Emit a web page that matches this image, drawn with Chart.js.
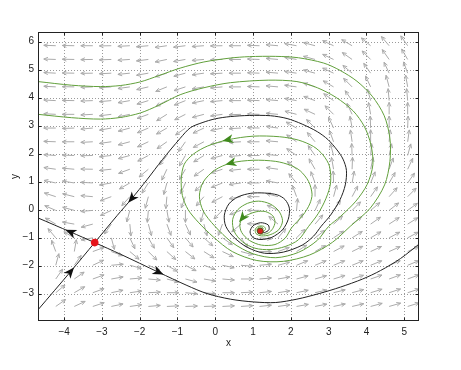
<!DOCTYPE html>
<html>
<head>
<meta charset="utf-8">
<script src="https://cdn.jsdelivr.net/npm/chart.js@4.4.0/dist/chart.umd.min.js"></script>
<style>html,body{margin:0;padding:0;background:#fff}</style>
</head>
<body>
<canvas id="c" width="461" height="370"></canvas>
<script>
// axis ticks
const xTicks = [-4, -3, -2, -1, 0, 1, 2, 3, 4, 5];
const yTicks = [-3, -2, -1, 0, 1, 2, 3, 4, 5, 6];
const xMin = -4.69, xMax = 5.39, yMin = -3.98, yMax = 6.34;

// direction field: grid columns / rows and on-screen arrow angle (deg)
const fieldX = [-4.22, -3.73, -3.24, -2.75, -2.26, -1.77, -1.28, -0.79, -0.30, 0.19, 0.68, 1.17, 1.66, 2.15, 2.64, 3.13, 3.62, 4.11, 4.60, 5.09];
const fieldY = [5.85, 5.36, 4.87, 4.38, 3.89, 3.40, 2.91, 2.42, 1.93, 1.44, 0.95, 0.46, -0.03, -0.52, -1.01, -1.50, -1.99, -2.48, -2.97, -3.46];
const fieldAngle = [
  [178,179,180,181,183,185,188,187,184,181,180,178,175,170,165,155,150,140,130,125],
  [178,179,181,182,184,187,192,190,185,182,180,178,175,170,165,155,145,135,125,120],
  [177,179,181,183,186,190,197,195,188,183,180,178,175,172,165,155,140,125,115,110],
  [177,179,182,184,188,193,202,198,190,185,180,178,175,172,162,150,135,115,105,100],
  [177,179,182,185,190,197,207,202,192,185,180,178,175,170,160,145,125,105,95,95],
  [177,180,183,187,192,200,212,207,195,188,182,178,175,165,155,135,115,100,90,90],
  [180,182,185,190,195,203,210,215,205,192,183,178,172,150,135,115,100,92,90,88],
  [178,180,183,188,195,205,215,235,208,192,183,180,175,145,130,110,98,90,85,82],
  [176,178,181,186,195,208,232,240,212,195,185,180,175,145,125,105,92,85,78,75],
  [172,175,179,186,200,220,245,240,215,198,186,180,172,140,120,100,88,78,70,65],
  [168,171,177,190,210,238,255,245,222,202,188,180,170,130,110,92,80,68,60,55],
  [162,166,175,200,228,255,265,250,230,208,190,180,165,110,90,75,62,55,48,45],
  [157,165,185,205,255,265,280,270,255,225,200,180,155,85,65,55,45,40,38,36],
  [150,170,195,235,275,285,290,295,285,250,220,178,140,60,50,42,38,35,33,32],
  [130,150,190,285,295,300,305,310,318,325,305,355,50,45,38,34,32,30,28,28],
  [110,80,20,340,320,315,318,322,328,335,345,0,20,32,30,28,26,25,24,24],
  [75,55,25,5,345,337,330,333,340,348,355,5,15,22,22,22,22,22,22,22],
  [55,35,20,10,5,355,345,345,350,355,0,5,10,15,16,17,18,19,20,20],
  [40,30,20,12,8,3,0,355,355,0,3,6,9,12,13,14,15,17,18,18],
  [35,25,18,12,8,5,3,2,2,3,4,6,8,10,11,12,13,15,16,17]
];

// equilibria
const saddle = [[-3.19, -1.18]];
const focus = [[1.19, -0.77]];

// separatrices (black), in direction of motion
const stableLower = [[-4.69, -3.58], [-3.83, -2.22], [-3.19, -1.18]];
const unstableLeft = [[-3.19, -1.18], [-3.83, -0.80], [-4.69, -0.30]];
const unstableRight = [[-3.19, -1.18], [-2.5, -1.6], [-1.5, -2.24], [-0.75, -2.71], [-0.22, -3.0], [0.4, -3.2],
  [1.02, -3.3], [1.6, -3.32], [2.16, -3.2], [2.75, -3.0], [3.31, -2.77], [3.9, -2.48], [4.37, -2.18], [4.9, -1.75], [5.45, -1.17]];
const stableUpper = [[1.19,-0.77],[1.3,-0.82],[1.42,-0.72],[1.4,-0.55],[1.2,-0.47],[1.0,-0.58],[0.92,-0.8],[1.0,-1.0],
  [1.21,-1.07],[1.5,-0.99],[1.78,-0.72],[1.93,-0.35],[1.96,0.05],[1.85,0.35],[1.65,0.52],[1.3,0.59],[0.94,0.58],
  [0.6,0.45],[0.36,0.2],[0.24,-0.2],[0.28,-0.6],[0.5,-1.0],[0.85,-1.35],[1.3,-1.56],[1.8,-1.52],[2.3,-1.27],
  [2.6,-0.95],[2.8,-0.6],[3.05,-0.2],[3.3,0.35],[3.44,0.88],[3.47,1.4],[3.38,1.8],[3.22,2.13],[2.98,2.5],
  [2.7,2.78],[2.3,3.05],[1.9,3.25],[1.46,3.35],[0.9,3.36],[0.4,3.32],[0.0,3.24],[-0.35,3.1],[-0.66,2.92],
  [-0.93,2.54],[-1.4,1.78],[-1.81,1.06],[-2.21,0.39],[-2.6,-0.22],[-3.19,-1.18]];

// two green orbits spiralling out of the focus
const greenOuter = [[1.26,-0.8],[1.33,-0.7],[1.28,-0.6],[1.14,-0.6],[1.06,-0.7],[1.08,-0.86],[1.22,-0.94],[1.45,-0.9],
  [1.68,-0.72],[1.78,-0.4],[1.68,-0.05],[1.45,0.2],[1.15,0.3],[0.85,0.22],[0.6,0.0],[0.46,-0.35],[0.5,-0.78],
  [0.72,-1.15],[1.05,-1.38],[1.45,-1.43],[1.85,-1.32],[2.2,-1.08],[2.47,-0.6],[2.72,-0.15],[2.93,0.4],[3.05,0.95],
  [3.02,1.55],[2.85,1.95],[2.6,2.25],[2.2,2.48],[1.7,2.6],[1.0,2.62],[0.33,2.49],[-0.2,2.27],[-0.58,1.98],
  [-0.82,1.62],[-0.9,1.1],[-0.87,0.5],[-0.72,0.0],[-0.45,-0.45],[-0.05,-0.98],[0.45,-1.5],[1.1,-1.82],[1.8,-1.85],
  [2.5,-1.62],[3.1,-1.17],[3.57,-0.6],[4.1,0.05],[4.48,0.88],[4.62,1.72],[4.62,2.55],[4.47,3.35],[4.15,4.05],
  [3.75,4.58],[3.3,4.97],[2.87,5.23],[2.2,5.42],[1.6,5.47],[0.9,5.46],[0.4,5.41],[-0.3,5.27],[-0.93,5.05],
  [-1.5,4.78],[-1.98,4.56],[-2.5,4.43],[-3.04,4.39],[-3.8,4.44],[-4.69,4.57]];
const greenInner = [[1.22,-0.74],[1.27,-0.67],[1.2,-0.62],[1.11,-0.68],[1.12,-0.8],[1.24,-0.88],[1.4,-0.84],[1.52,-0.68],
  [1.58,-0.45],[1.52,-0.22],[1.32,-0.07],[1.08,-0.08],[0.87,-0.18],[0.72,-0.3],[0.65,-0.55],[0.7,-0.82],[0.9,-1.1],
  [1.22,-1.27],[1.58,-1.25],[1.85,-1.02],[2.02,-0.65],[2.32,-0.2],[2.5,0.2],[2.56,0.55],[2.47,1.0],[2.25,1.38],
  [1.99,1.58],[1.6,1.72],[1.0,1.76],[0.41,1.66],[-0.02,1.4],[-0.32,0.98],[-0.42,0.48],[-0.32,-0.05],[-0.02,-0.58],
  [0.45,-1.18],[1.0,-1.58],[1.6,-1.72],[2.2,-1.53],[2.7,-1.1],[3.0,-0.6],[3.31,-0.25],[3.72,0.3],[4.02,0.9],
  [4.17,1.6],[4.12,2.3],[3.95,2.95],[3.65,3.52],[3.2,4.0],[2.7,4.35],[2.16,4.57],[1.4,4.62],[0.4,4.53],[-0.3,4.35],
  [-0.93,4.1],[-1.5,3.72],[-1.98,3.45],[-2.5,3.29],[-3.04,3.23],[-3.8,3.28],[-4.69,3.4]];

// where the flow arrowheads sit: [curve, point index]
const blackHeads = [[stableUpper, 47], [stableLower, 1], [unstableLeft, 1], [unstableRight, 2]];
const greenHeads = [[greenOuter, 32], [greenInner, 29], [greenInner, 13]];

const FONT = "'Liberation Sans', Arial, Helvetica, sans-serif";
const fmt = v => (v < 0 ? '\u2212' + Math.abs(v) : String(v));

function drawHead(ctx, chart, pts, i, color) {
  const { x, y } = chart.scales;
  const px = k => x.getPixelForValue(pts[k][0]);
  const py = k => y.getPixelForValue(pts[k][1]);
  const a = Math.max(i - 1, 0), b = Math.min(i + 1, pts.length - 1);
  const t = Math.atan2(py(b) - py(a), px(b) - px(a));
  ctx.save();
  ctx.translate(px(i), py(i));
  ctx.rotate(t);
  ctx.fillStyle = color;
  ctx.beginPath();
  ctx.moveTo(5.5, 0);
  ctx.lineTo(-5.5, -4.5);
  ctx.lineTo(-2.5, 0);
  ctx.lineTo(-5.5, 4.5);
  ctx.closePath();
  ctx.fill();
  ctx.restore();
}

const phasePlugin = {
  id: 'phase',
  beforeDatasetsDraw(chart) {
    const { ctx, chartArea: a, scales: { x, y } } = chart;
    ctx.save();
    ctx.beginPath();
    ctx.rect(a.left, a.top, a.right - a.left, a.bottom - a.top);
    ctx.clip();
    // dotted grid
    ctx.strokeStyle = '#9a9a9a';
    ctx.lineWidth = 1;
    ctx.setLineDash([1, 2]);
    xTicks.forEach(v => {
      const p = Math.round(x.getPixelForValue(v)) + 0.5;
      ctx.beginPath(); ctx.moveTo(p, a.top); ctx.lineTo(p, a.bottom); ctx.stroke();
    });
    yTicks.forEach(v => {
      const p = Math.round(y.getPixelForValue(v)) + 0.5;
      ctx.beginPath(); ctx.moveTo(a.left, p); ctx.lineTo(a.right, p); ctx.stroke();
    });
    ctx.setLineDash([]);
    // direction field
    ctx.strokeStyle = '#ababab';
    fieldY.forEach((fy, j) => fieldX.forEach((fx, i) => {
      const t = fieldAngle[j][i] * Math.PI / 180;
      const x0 = x.getPixelForValue(fx), y0 = y.getPixelForValue(fy);
      const x1 = x0 + 12 * Math.cos(t), y1 = y0 - 12 * Math.sin(t);
      ctx.beginPath();
      ctx.moveTo(x0, y0); ctx.lineTo(x1, y1);
      [-0.42, 0.42].forEach(s => {
        const h = t + Math.PI + s;
        ctx.moveTo(x1, y1);
        ctx.lineTo(x1 + 4.5 * Math.cos(h), y1 - 4.5 * Math.sin(h));
      });
      ctx.stroke();
    }));
    ctx.restore();
  },
  afterDatasetsDraw(chart) {
    const { ctx, chartArea: a, scales: { x, y } } = chart;
    blackHeads.forEach(([pts, i]) => drawHead(ctx, chart, pts, i, '#111'));
    greenHeads.forEach(([pts, i]) => drawHead(ctx, chart, pts, i, '#3f8a1c'));
    // box and inward ticks
    ctx.save();
    ctx.strokeStyle = '#222';
    ctx.lineWidth = 1;
    const L = Math.round(a.left) + 0.5, R = Math.round(a.right) - 0.5;
    const T = Math.round(a.top) + 0.5, B = Math.round(a.bottom) - 0.5;
    ctx.strokeRect(L, T, R - L, B - T);
    ctx.beginPath();
    xTicks.forEach(v => {
      const p = Math.round(x.getPixelForValue(v)) + 0.5;
      ctx.moveTo(p, B); ctx.lineTo(p, B - 3);
      ctx.moveTo(p, T); ctx.lineTo(p, T + 3);
    });
    yTicks.forEach(v => {
      const p = Math.round(y.getPixelForValue(v)) + 0.5;
      ctx.moveTo(L, p); ctx.lineTo(L + 3, p);
      ctx.moveTo(R, p); ctx.lineTo(R - 3, p);
    });
    ctx.stroke();
    ctx.restore();
  }
};

const line = (data, color) => ({
  data, showLine: true, borderColor: color, borderWidth: 1, pointRadius: 0, tension: 0.3, fill: false
});

new Chart(document.getElementById('c'), {
  type: 'scatter',
  data: {
    datasets: [
      { data: saddle, pointRadius: 3.8, pointBackgroundColor: '#e5141b', pointBorderWidth: 0 },
      { data: focus, pointRadius: 3, pointBackgroundColor: '#d8201a', pointBorderColor: '#5a4a1a', pointBorderWidth: 1 },
      line(stableLower, '#222'),
      line(unstableLeft, '#222'),
      line(unstableRight, '#222'),
      line(stableUpper, '#222'),
      line(greenOuter, '#62a03c'),
      line(greenInner, '#62a03c')
    ]
  },
  options: {
    responsive: false,
    animation: false,
    devicePixelRatio: 1,
    layout: { padding: { left: 0, top: 32, right: 42, bottom: 0 } },
    plugins: { legend: { display: false }, tooltip: { enabled: false } },
    scales: {
      x: {
        type: 'linear', min: xMin, max: xMax,
        afterBuildTicks: s => { s.ticks = xTicks.map(v => ({ value: v })); },
        afterFit: s => { s.height = 49; },
        grid: { display: false, drawTicks: false }, border: { display: false },
        ticks: { font: { family: FONT, size: 10 }, color: '#222', padding: 5, maxRotation: 0, autoSkip: false, callback: fmt },
        title: { display: true, text: 'x', font: { family: FONT, size: 10 }, color: '#222', padding: { top: 0, bottom: 21 } }
      },
      y: {
        type: 'linear', min: yMin, max: yMax,
        afterBuildTicks: s => { s.ticks = yTicks.map(v => ({ value: v })); },
        afterFit: s => { s.width = 38; },
        grid: { display: false, drawTicks: false }, border: { display: false },
        ticks: { font: { family: FONT, size: 10 }, color: '#222', padding: 4, autoSkip: false, callback: fmt },
        title: { display: true, text: 'y', font: { family: FONT, size: 10 }, color: '#222', padding: { top: 9, bottom: 0 } }
      }
    }
  },
  plugins: [phasePlugin]
});
</script>
</body>
</html>
